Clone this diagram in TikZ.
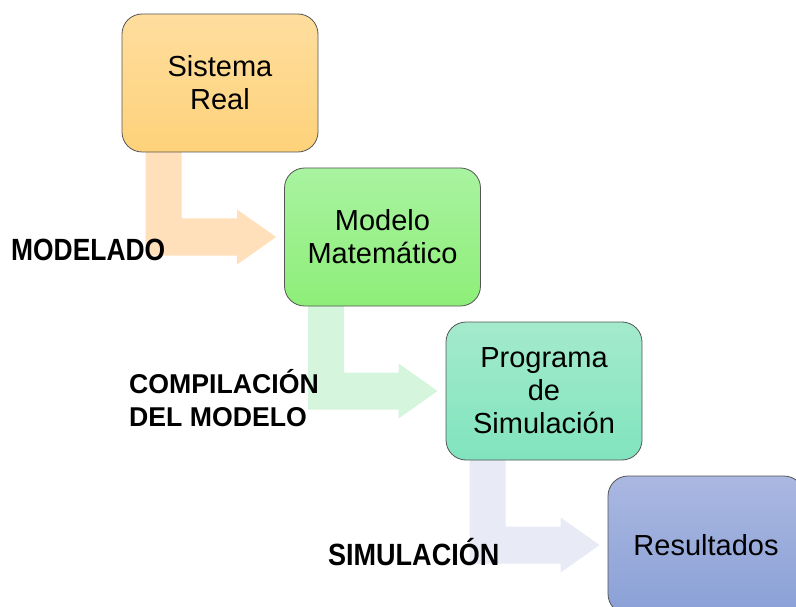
\documentclass[tikz,border=0pt]{standalone}
\usepackage{fontspec}
\usepackage{graphicx}
\setmainfont{Liberation Sans}
\newfontfamily\labfont{Liberation Sans Bold}
\usetikzlibrary{calc,backgrounds}
\definecolor{oTop}{RGB}{254,221,158}
\definecolor{oBot}{RGB}{254,210,122}
\definecolor{gTop}{RGB}{168,243,160}
\definecolor{gBot}{RGB}{142,238,120}
\definecolor{tTop}{RGB}{164,234,204}
\definecolor{tBot}{RGB}{128,228,190}
\definecolor{bTop}{RGB}{170,184,225}
\definecolor{bBot}{RGB}{138,160,214}
\definecolor{aOrange}{RGB}{255,224,186}
\definecolor{aGreen}{RGB}{213,245,221}
\definecolor{aBlue}{RGB}{232,234,245}
\definecolor{boxline}{RGB}{85,85,85}
\newcommand\bentarrow[3]{%
  \fill[#3] let \p1=(#1.south west), \p2=(#2.west) in
    (\x1+24pt,\y1+4pt) -- (\x1+24pt,\y2-18.5pt) -- (\x2-47pt,\y2-18.5pt)
    -- (\x2-47pt,\y2-27.5pt) -- (\x2-8pt,\y2) -- (\x2-47pt,\y2+27.5pt)
    -- (\x2-47pt,\y2+18.5pt) -- (\x1+60pt,\y2+18.5pt) -- (\x1+60pt,\y1+4pt) -- cycle;}
\tikzset{
  stagebox/.style={draw=boxline, line width=0.8pt, rounded corners=20pt,
    minimum width=196pt, minimum height=138pt, inner sep=0pt,
    align=center, text=black, font=\fontsize{29}{33}\selectfont},
  biglabel/.style={anchor=base west, inner sep=0pt, text=black,
    font=\labfont\fontsize{30.7}{33}\selectfont},
  smalllabel/.style={anchor=base west, inner sep=0pt, text=black, align=left,
    font=\labfont\fontsize{27.2}{33}\selectfont}
}
\begin{document}
\begin{tikzpicture}[x=1pt,y=-1pt]
\useasboundingbox (0,0) rectangle (796,607);
\node[stagebox, top color=oTop, bottom color=oBot] (b1) at (220,83) {Sistema\\Real};
\node[stagebox, top color=gTop, bottom color=gBot] (b2) at (382.5,237) {Modelo\\Matemático};
\node[stagebox, top color=tTop, bottom color=tBot] (b3) at (544,391) {Programa\\de\\Simulación};
\node[stagebox, top color=bTop, bottom color=bBot] (b4) at (706,545) {Resultados};
\begin{scope}[on background layer]
  \bentarrow{b1}{b2}{aOrange}
  \bentarrow{b2}{b3}{aGreen}
  \bentarrow{b3}{b4}{aBlue}
\end{scope}
\node[biglabel] (l1) at (11,261) {\scalebox{0.86}[1]{MODELADO}};
\node[smalllabel] (l2) at (129,426) {\scalebox{0.98}[1]{COMPILACIÓN}\\\scalebox{0.98}[1]{DEL MODELO}};
\node[biglabel] (l3) at (328,565) {\scalebox{0.88}[1]{SIMULACIÓN}};
\end{tikzpicture}
\end{document}
